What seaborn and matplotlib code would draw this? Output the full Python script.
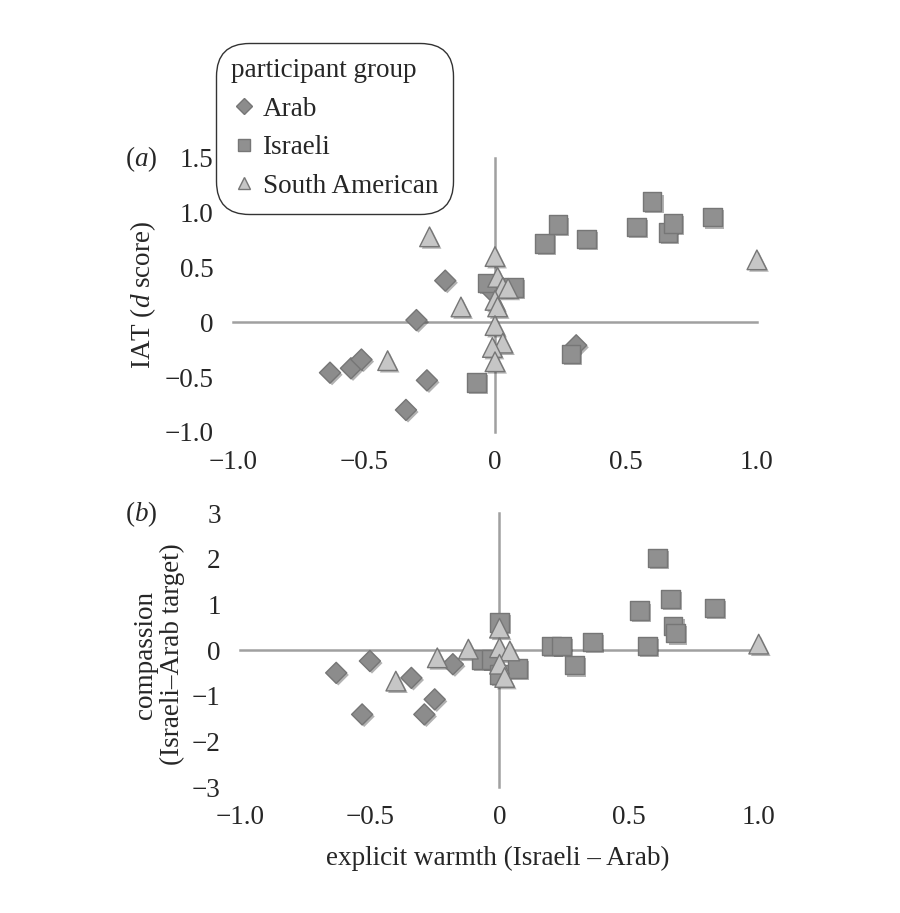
import numpy as np
import pandas as pd
import seaborn as sns
import matplotlib.pyplot as plt
import matplotlib.patheffects as pe

# panel (a): explicit warmth vs IAT
arab_a_x = [-0.63, -0.55, -0.51, -0.30, -0.19, -0.26, -0.34, 0.31, -0.02]
arab_a_y = [-0.46, -0.42, -0.34, 0.02, 0.38, -0.53, -0.80, -0.21, 0.30]
isr_a_x = [-0.07, -0.03, 0.07, 0.19, 0.24, 0.35, 0.29, 0.54, 0.60, 0.66, 0.68, 0.83]
isr_a_y = [-0.55, 0.36, 0.32, 0.72, 0.89, 0.76, -0.29, 0.87, 1.10, 0.82, 0.90, 0.96]
sa_a_x = [-0.25, -0.13, -0.41, 0.00, 0.01, 0.03, 0.05, 0.00, 0.01, 0.00, 0.03, -0.01, 0.00, 1.00]
sa_a_y = [0.78, 0.14, -0.35, 0.60, 0.41, 0.32, 0.31, 0.20, 0.14, -0.03, -0.19, -0.23, -0.36, 0.57]

# panel (b): explicit warmth vs compassion
arab_b_x = [-0.63, -0.50, -0.53, -0.34, -0.25, -0.29, -0.18]
arab_b_y = [-0.50, -0.24, -1.41, -0.61, -1.08, -1.41, -0.31]
isr_b_x = [0.00, -0.07, -0.03, 0.00, 0.07, 0.20, 0.24, 0.29, 0.36, 0.54, 0.57, 0.61, 0.66, 0.67, 0.68, 0.83]
isr_b_y = [0.60, -0.20, -0.20, -0.53, -0.40, 0.09, 0.09, -0.33, 0.18, 0.86, 0.09, 2.02, 1.12, 0.53, 0.37, 0.92]
sa_b_x = [-0.40, -0.24, -0.12, 0.00, 0.00, 0.04, 0.00, 0.02, 1.00]
sa_b_y = [-0.68, -0.17, 0.02, 0.48, 0.05, -0.02, -0.31, -0.60, 0.13]

groups = ['Arab', 'Israeli', 'South American']
x_ticks = [-1.0, -0.5, 0, 0.5, 1.0]
x_labels = ['\u22121.0', '\u22120.5', '0', '0.5', '1.0']
ya_ticks = [-1.0, -0.5, 0, 0.5, 1.0, 1.5]
ya_labels = ['\u22121.0', '\u22120.5', '0', '0.5', '1.0', '1.5']
yb_ticks = [-3, -2, -1, 0, 1, 2, 3]
yb_labels = ['\u22123', '\u22122', '\u22121', '0', '1', '2', '3']


def make_df(ax_, ay_, ix, iy, sx, sy):
    return pd.DataFrame({
        'x': ax_ + ix + sx,
        'y': ay_ + iy + sy,
        'group': ['Arab'] * len(ax_) + ['Israeli'] * len(ix) + ['South American'] * len(sx),
    })


df_a = make_df(arab_a_x, arab_a_y, isr_a_x, isr_a_y, sa_a_x, sa_a_y)
df_b = make_df(arab_b_x, arab_b_y, isr_b_x, isr_b_y, sa_b_x, sa_b_y)

sns.set_style('white')
plt.rcParams['font.family'] = ['Liberation Serif', 'DejaVu Serif']
plt.rcParams['mathtext.fontset'] = 'custom'
plt.rcParams['mathtext.it'] = 'Liberation Serif:italic'
plt.rcParams['mathtext.rm'] = 'Liberation Serif'

palette = {'Arab': '#8c8c8c', 'Israeli': '#909090', 'South American': '#c6c6c6'}
markers = {'Arab': 'D', 'Israeli': 's', 'South American': '^'}
msizes = {'Arab': 115, 'Israeli': 180, 'South American': 200}
axis_col = '#a0a0a0'
fs = 19.5

fig = plt.figure(figsize=(9, 9.13), dpi=100)
ax_a = fig.add_axes([0.259, 0.527, 0.582, 0.300])
ax_b = fig.add_axes([0.267, 0.138, 0.576, 0.300])


def draw(ax, df, yticks, ylabels, ylim):
    sns.scatterplot(data=df, x='x', y='y', hue='group', style='group', size='group',
                    hue_order=groups, style_order=groups, size_order=groups,
                    palette=palette, markers=markers, sizes=msizes,
                    edgecolor='#767676', linewidth=1.0, ax=ax, zorder=3,
                    clip_on=False)
    for c in ax.collections:
        c.set_path_effects([pe.SimplePatchShadow(offset=(1.5, -1.5), alpha=0.3,
                                                 shadow_rgbFace='black'),
                            pe.Normal()])
    ax.set_xlim(-1.0, 1.0)
    ax.set_ylim(*ylim)
    ax.set_facecolor('none')
    for side in ['top', 'right']:
        ax.spines[side].set_visible(False)
    for side in ['left', 'bottom']:
        ax.spines[side].set_position(('data', 0))
        ax.spines[side].set_color(axis_col)
        ax.spines[side].set_linewidth(1.8)
        ax.spines[side].set_zorder(1)
    ax.set_xticks(x_ticks)
    ax.set_yticks(yticks)
    ax.tick_params(axis='both', direction='out', length=5, width=1.2,
                   color=axis_col, labelbottom=False, labelleft=False)
    ax.set_xlabel('')
    ax.set_ylabel('')

    sx = ax.secondary_xaxis('bottom')
    sx.set_xticks(x_ticks, x_labels)
    sx.tick_params(length=0, pad=13, labelsize=fs)
    sx.spines['bottom'].set_visible(False)
    sy = ax.secondary_yaxis('left')
    sy.set_yticks(yticks, ylabels)
    sy.tick_params(length=0, pad=14, labelsize=fs)
    sy.spines['left'].set_visible(False)


draw(ax_a, df_a, ya_ticks, ya_labels, (-1.0, 1.5))
handles, labels = ax_a.get_legend_handles_labels()
ax_a.get_legend().remove()
draw(ax_b, df_b, yb_ticks, yb_labels, (-3, 3))
ax_b.get_legend().remove()

for h in handles:
    h.set_markersize(8)

leg = fig.legend(handles, labels, title='participant group', loc='upper left',
                 bbox_to_anchor=(0.236, 0.957), fontsize=fs, title_fontsize=fs,
                 alignment='left', frameon=True, fancybox=True, edgecolor='black',
                 handletextpad=0.25, labelspacing=0.5, borderpad=0.2,
                 handlelength=0.9)
leg.get_frame().set_linewidth(1.0)
leg.get_frame().set_boxstyle('round', pad=0.35, rounding_size=1.2)

fig.text(0.157, 0.826, r'($\it{a}$)', fontsize=fs, ha='center', va='center')
fig.text(0.157, 0.437, r'($\it{b}$)', fontsize=fs, ha='center', va='center')
fig.text(0.159, 0.677, r'IAT ($\it{d}$ score)', fontsize=fs, rotation=90,
         ha='center', va='center')
fig.text(0.177, 0.283, 'compassion\n(Israeli\u2013Arab target)', fontsize=fs,
         rotation=90, ha='center', va='center', linespacing=1.1)
fig.text(0.553, 0.060, 'explicit warmth (Israeli \u2013 Arab)', fontsize=fs,
         ha='center', va='center')

fig.savefig('out.png', dpi=100, facecolor='white')
